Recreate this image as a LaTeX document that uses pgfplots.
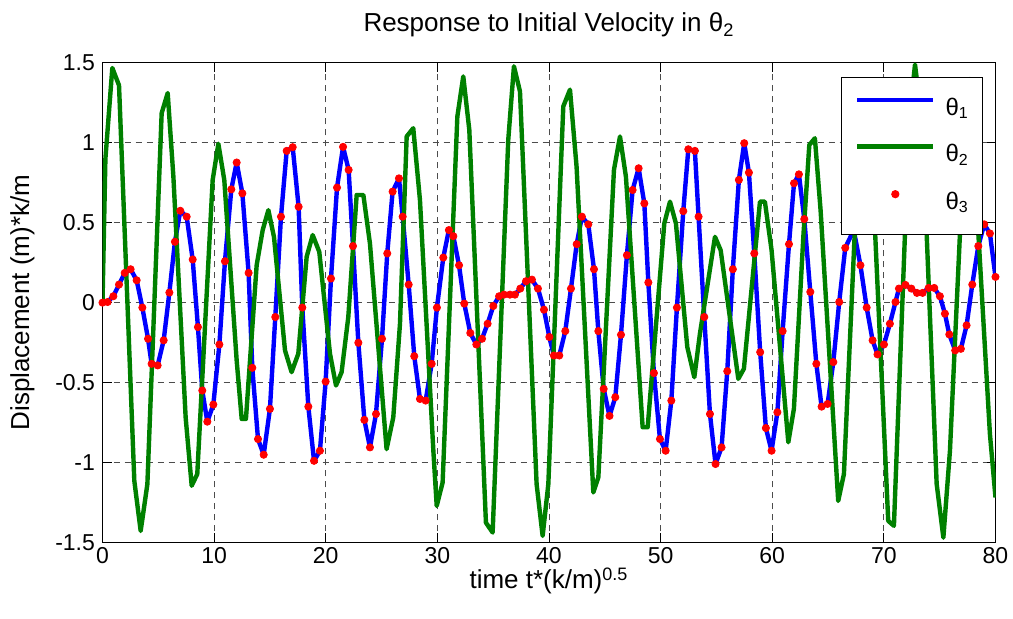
\documentclass[border=0pt]{standalone}
\usepackage{fontspec}
\setmainfont{Liberation Sans}
\usepackage{pgfplots}
\pgfplotsset{compat=1.18}
\usepackage{pgfplotstable}

\definecolor{mblue}{RGB}{0,0,255}
\definecolor{mgreen}{RGB}{0,128,0}
\definecolor{mred}{RGB}{255,0,0}

\pgfplotsset{
    linelegend/.style={legend image code/.code={\draw[##1] (0pt,4.4pt) -- (38pt,4.4pt);}},
    dotlegend/.style={legend image code/.code={\draw[mark repeat=2, mark phase=2, ##1] plot coordinates {(0pt,4.4pt) (19pt,4.4pt) (38pt,4.4pt)};}},
}

% theta_1 (= theta_3), read at the solver's output times
\pgfplotstableread{
t v
0.00 0.000
0.46 0.004
0.97 0.040
1.48 0.113
1.99 0.186
2.52 0.209
3.06 0.140
3.57 -0.031
4.08 -0.226
4.40 -0.383
4.94 -0.393
5.48 -0.236
5.99 0.063
6.49 0.381
6.97 0.575
7.54 0.538
8.08 0.270
8.55 -0.153
8.94 -0.550
9.39 -0.745
9.93 -0.638
10.47 -0.262
10.97 0.259
11.54 0.709
12.02 0.877
12.53 0.684
13.09 0.186
13.42 -0.408
13.93 -0.854
14.44 -0.952
15.00 -0.665
15.48 -0.090
15.99 0.538
16.50 0.950
17.04 0.973
17.57 0.600
17.90 -0.031
18.44 -0.651
18.95 -0.990
19.48 -0.927
19.99 -0.494
20.47 0.151
21.01 0.720
21.55 0.975
22.05 0.831
22.44 0.354
22.92 -0.251
23.46 -0.734
23.96 -0.906
24.50 -0.697
25.04 -0.226
25.51 0.308
25.99 0.695
26.56 0.778
26.89 0.538
27.43 0.113
27.93 -0.335
28.44 -0.603
28.95 -0.613
29.49 -0.383
29.96 -0.031
30.53 0.282
31.03 0.454
31.43 0.416
31.94 0.234
32.41 -0.006
32.95 -0.190
33.49 -0.262
34.00 -0.226
34.50 -0.132
35.01 -0.021
35.53 0.040
35.97 0.050
36.50 0.050
36.95 0.050
37.43 0.088
37.94 0.134
38.47 0.144
39.01 0.088
39.55 -0.044
40.03 -0.215
40.44 -0.331
40.92 -0.331
41.46 -0.178
41.97 0.088
42.48 0.366
42.95 0.538
43.52 0.490
44.03 0.209
44.42 -0.178
44.90 -0.540
45.42 -0.709
45.94 -0.592
46.45 -0.201
46.98 0.297
47.49 0.705
48.03 0.841
48.54 0.621
48.90 0.126
49.40 -0.441
49.94 -0.854
50.45 -0.927
50.96 -0.613
51.46 -0.031
52.03 0.573
52.48 0.960
53.07 0.950
53.40 0.538
53.91 -0.090
54.42 -0.697
54.92 -1.010
55.46 -0.906
55.97 -0.429
56.47 0.209
57.01 0.768
57.49 0.998
57.91 0.814
58.39 0.308
58.92 -0.310
59.43 -0.785
59.94 -0.927
60.46 -0.686
60.93 -0.178
61.50 0.366
61.95 0.747
62.39 0.803
62.87 0.523
63.41 0.067
63.95 -0.383
64.42 -0.651
64.96 -0.634
65.47 -0.372
66.00 0.004
66.54 0.343
67.30 0.454
67.90 0.234
68.46 -0.031
68.99 -0.236
69.43 -0.324
70.01 -0.262
70.54 -0.132
71.04 0.004
71.35 0.088
71.93 0.111
72.46 0.088
72.96 0.061
73.47 0.061
74.01 0.092
74.51 0.092
75.02 0.040
75.47 -0.069
75.86 -0.199
76.39 -0.299
76.90 -0.289
77.41 -0.142
77.92 0.113
78.46 0.354
78.99 0.490
79.50 0.433
80.00 0.161
}\thetaone

% theta_2
\pgfplotstableread{
t v
0.00 0.000
0.26 0.900
0.88 1.469
1.48 1.360
2.85 -1.115
3.42 -1.429
4.02 -1.136
5.30 1.186
5.84 1.312
6.35 0.789
7.45 -0.720
7.99 -1.146
8.49 -1.073
9.87 0.768
10.38 0.994
10.91 0.768
12.02 -0.362
12.47 -0.728
12.85 -0.728
13.81 0.234
14.35 0.454
14.86 0.579
15.36 0.412
16.35 -0.299
16.94 -0.435
17.54 -0.320
18.29 0.287
18.83 0.423
19.42 0.318
20.38 -0.320
20.92 -0.519
21.42 -0.435
22.02 -0.090
22.77 0.674
23.37 0.674
23.96 0.370
25.45 -0.917
26.05 -0.718
26.65 -0.132
27.25 1.040
27.84 1.092
28.44 0.642
29.64 -0.927
29.94 -1.272
30.47 -1.126
31.79 1.165
32.32 1.416
32.86 1.082
34.35 -1.377
34.95 -1.439
36.35 1.019
36.86 1.479
37.40 1.322
38.89 -1.136
39.43 -1.460
39.94 -1.136
41.28 1.228
41.88 1.333
42.47 0.851
43.97 -1.188
44.42 -1.094
45.82 0.831
46.36 1.040
46.89 0.789
48.39 -0.780
48.84 -0.780
50.33 0.496
50.84 0.632
51.37 0.496
52.39 -0.278
53.02 -0.467
53.52 -0.195
54.87 0.412
55.38 0.328
56.96 -0.477
57.46 -0.414
58.90 0.632
59.34 0.632
59.94 0.328
61.44 -0.874
61.94 -0.665
62.80 0.430
63.32 0.987
63.82 1.029
64.33 0.579
65.91 -1.241
66.42 -1.073
67.85 1.150
68.35 1.320
68.85 1.000
70.39 -1.366
70.90 -1.397
71.89 0.430
72.35 1.200
72.79 1.490
73.30 1.200
73.83 0.437
74.73 -1.136
75.33 -1.471
75.92 -0.927
76.82 0.437
77.25 1.200
77.70 1.400
78.10 1.100
78.46 0.437
79.50 -0.822
80.00 -1.220
}\thetatwo

\begin{document}
\begin{tikzpicture}
\useasboundingbox (0,0) rectangle (506.5pt,309.5pt);
\begin{axis}[
    at={(51.25pt,38.35pt)}, anchor=south west,
    scale only axis, width=446.5pt, height=239.65pt,
    xmin=0, xmax=80, ymin=-1.5, ymax=1.5,
    xtick={0,10,...,80},
    xticklabels={0,10,20,30,40,50,60,70,80},
    ytick={-1.5,-1,-0.5,0,0.5,1,1.5},
    yticklabels={-1.5,-1,-0.5,0,0.5,1,1.5},
    tick align=inside, major tick length=4.5pt,
    tick style={black, line width=0.5pt},
    axis line style={black, line width=0.5pt},
    grid=major,
    major grid style={black!70, line width=0.5pt, dash pattern=on 3.3pt off 2.2pt},
    ticklabel style={font=\fontsize{11.5}{13}\selectfont},
    xticklabel style={inner sep=0pt, yshift=-2.2pt},
    yticklabel style={inner sep=0pt, xshift=-3.6pt},
    every axis title shift=0pt,
    title={Response to Initial Velocity in θ\textsubscript{2}},
    title style={at={(axis description cs:0.5,1.0647)}, anchor=base, font=\fontsize{13}{15}\selectfont, inner sep=0pt},
    xlabel={time t*(k/m)\textsuperscript{\fontsize{9}{10}\selectfont 0.5}},
    xlabel style={at={(axis description cs:0.5,-0.097)}, anchor=base, font=\fontsize{13}{15}\selectfont, inner sep=0pt},
    ylabel={Displacement (m)*k/m},
    ylabel style={at={(axis description cs:-0.0896,0.5)}, anchor=center, font=\fontsize{13}{15}\selectfont, inner sep=0pt},
    legend style={at={(axis description cs:0.9863,0.9714)}, anchor=north east,
        draw=black, line width=0.5pt, fill=white,
        font=\fontsize{12}{14}\selectfont,
        inner xsep=7pt, inner ysep=10.3pt, row sep=12pt, column sep=5pt,
        nodes={inner sep=0pt, text height=8.8pt, text depth=2.4pt}},
    legend cell align=left,
]
\addplot[mblue, line width=2.2pt, line join=round, linelegend]
    table[x=t, y=v] {\thetaone};
\addplot[mgreen, line width=2.2pt, line join=round, linelegend]
    table[x=t, y=v] {\thetatwo};
\addplot[only marks, mark=*, mark size=1.8pt, mark options={draw=mred, fill=mred}, dotlegend]
    table[x=t, y=v] {\thetaone};
\legend{θ\textsubscript{1}, θ\textsubscript{2}, θ\textsubscript{3}}
\end{axis}
\end{tikzpicture}
\end{document}
